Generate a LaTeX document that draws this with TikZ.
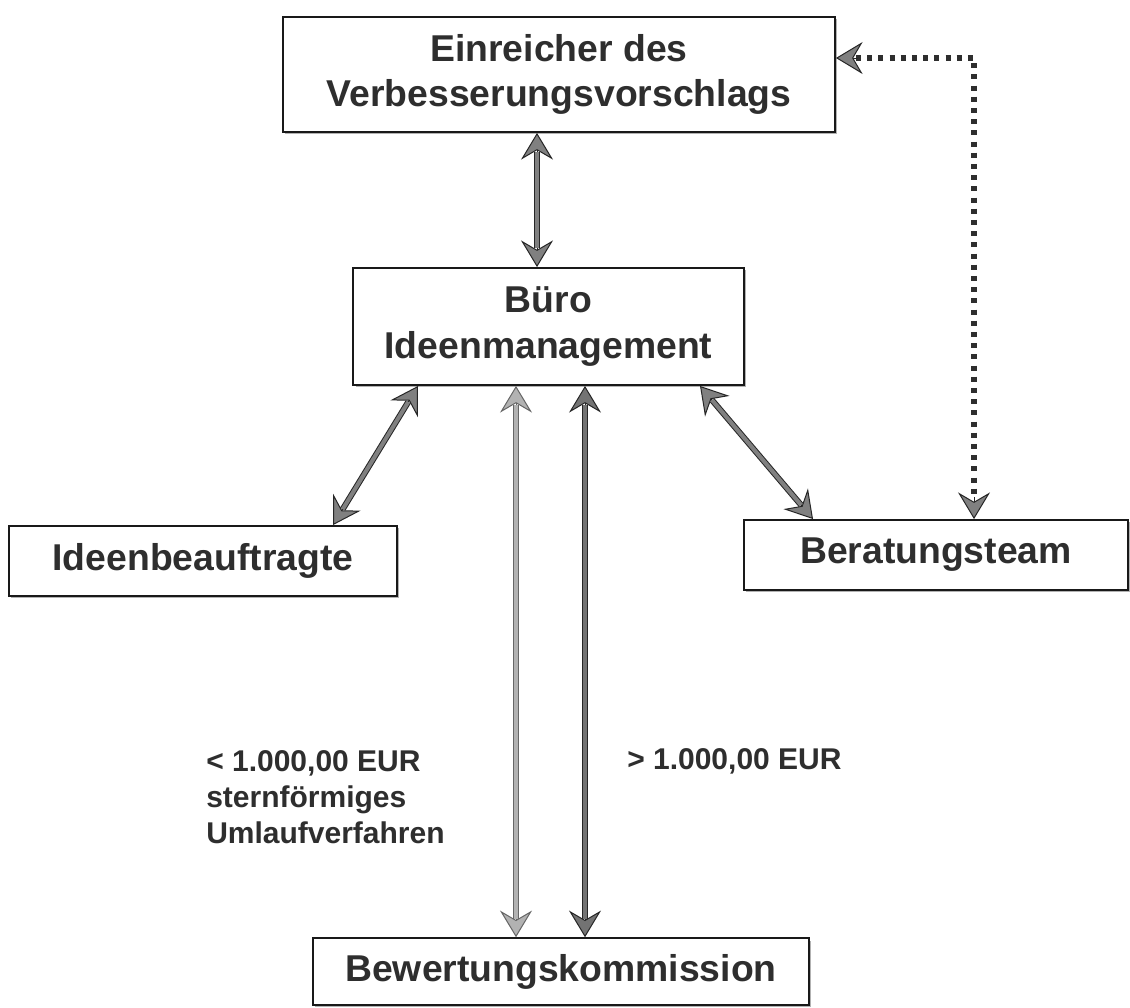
\documentclass[tikz,border=0pt]{standalone}
\usepackage{fontspec}
\setmainfont{Liberation Sans}
\usetikzlibrary{arrows.meta,calc,shadows}
\begin{document}
\begin{tikzpicture}[x=0.75pt,y=-0.75pt,
  box/.style={draw=black!90, line width=1.4pt, fill=white, inner sep=0pt, align=center,
    text=black!82, font=\bfseries\fontsize{28}{34}\selectfont,
    drop shadow={shadow xshift=1.8pt, shadow yshift=-1.8pt, fill=black!30, opacity=1}},
  lbl/.style={inner sep=0pt, align=left, text=black!82, font=\bfseries\fontsize{22.5}{27}\selectfont},
  heads/.style={draw=black!85, line width=0.75pt,
    {Stealth[length=20pt, width=24pt, inset=7pt, fill=#1]}-{Stealth[length=20pt, width=24pt, inset=7pt, fill=#1]}},
  shaft/.style={draw=black!85, line width=0.75pt, double=#1, double distance=3pt,
    shorten <=14pt, shorten >=14pt},
  dots/.style={draw=black!82, line width=3.8pt, dash pattern=on 3.8pt off 4.6pt},
  headend/.style={draw=black!85, line width=0.75pt,
    -{Stealth[length=20pt, width=24pt, inset=7pt, fill=black!50]}}
]
\useasboundingbox (0,0) rectangle (1130,1007);
\fill[white] (0,0) rectangle (1130,1007);

% boxes
\node[box, minimum width=414pt, minimum height=86.25pt] (tb) at (559,74.5)
  {Einreicher des\\Verbesserungsvorschlags};
\node[box, minimum width=293pt, minimum height=87.75pt] (mb) at (548.5,326.5)
  {Büro\\Ideenmanagement};
\node[box, minimum width=291pt, minimum height=52.5pt] (lb) at (203,561)
  {Ideenbeauftragte};
\node[box, minimum width=288pt, minimum height=52.5pt] (rb) at (936,555)
  {Beratungsteam};
\node[box, minimum width=372pt, minimum height=50pt] (bb) at (561,971.5)
  {Bewertungskommission};

% labels
\node[lbl, anchor=west] (l1) at (206,797)
  {< 1.000,00 EUR\\sternförmiges\\Umlaufverfahren};
\node[lbl, anchor=west] (l2) at (627,761) {> 1.000,00 EUR};

% helper coordinates
\coordinate (xa) at (537,0);
\coordinate (xv1) at (516,0);
\coordinate (xv2) at (585,0);
\coordinate (dl1) at (418,0);
\coordinate (dl2) at (333,0);
\coordinate (dr1) at (700,0);
\coordinate (dr2) at (813,0);
\coordinate (dc) at (974,58);

% top <-> middle
\draw[heads=black!50] (xa |- tb.south) -- (xa |- mb.north);
\draw[shaft=black!50] (xa |- tb.south) -- (xa |- mb.north);
% middle <-> left
\draw[heads=black!50] (dl1 |- mb.south) -- (dl2 |- lb.north);
\draw[shaft=black!50] (dl1 |- mb.south) -- (dl2 |- lb.north);
% middle <-> right
\draw[heads=black!50] (dr1 |- mb.south) -- (dr2 |- rb.north);
\draw[shaft=black!50] (dr1 |- mb.south) -- (dr2 |- rb.north);
% middle <-> bottom (two)
\draw[heads=black!30, draw=black!60] (xv1 |- mb.south) -- (xv1 |- bb.north);
\draw[shaft=black!30, draw=black!60] (xv1 |- mb.south) -- (xv1 |- bb.north);
\draw[heads=black!55] (xv2 |- mb.south) -- (xv2 |- bb.north);
\draw[shaft=black!55] (xv2 |- mb.south) -- (xv2 |- bb.north);
% dotted top <-> Beratungsteam
\draw[dots, shorten <=15pt, shorten >=15pt] (dc -| tb.east) -- (dc) -- (dc |- rb.north);
\draw[headend] ($(dc -| tb.east)+(22,0)$) -- (dc -| tb.east);
\draw[headend] ($(dc |- rb.north)+(0,-22)$) -- (dc |- rb.north);
\end{tikzpicture}
\end{document}
